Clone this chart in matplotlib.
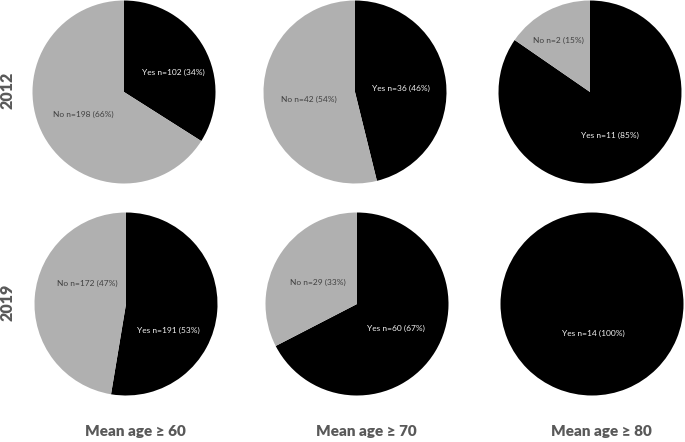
import matplotlib
matplotlib.use("Agg")
import matplotlib.pyplot as plt

# ---- data ----
years = ["2012", "2019"]
age_groups = ["Mean age \u2265 60", "Mean age \u2265 70", "Mean age \u2265 80"]
categories = ["Yes", "No"]
yes_2012 = [102, 36, 11]
no_2012 = [198, 42, 2]
pct_yes_2012 = [34, 46, 85]
pct_no_2012 = [66, 54, 15]
yes_2019 = [191, 60, 14]
no_2019 = [172, 29, 0]
pct_yes_2019 = [53, 67, 100]
pct_no_2019 = [47, 33, 0]

# ---- layout / style ----
W, H = 685, 442
DPI = 100
col_cx = [[124, 355, 590], [126, 357, 592]]
row_cy = [92, 304]
R = 91.5
colors = {"Yes": "#000000", "No": "#B0B0B0"}
text_colors = {"Yes": "#F2F2F2", "No": "#404040"}
# label positions in units of radius (dx, dy), per pie per category
label_offsets = {
    (0, 0): {"Yes": (0.54, 0.21), "No": (-0.44, -0.25)},
    (0, 1): {"Yes": (0.50, 0.04), "No": (-0.50, -0.08)},
    (0, 2): {"Yes": (0.22, -0.47), "No": (-0.34, 0.56)},
    (1, 0): {"Yes": (0.46, -0.29), "No": (-0.42, 0.23)},
    (1, 1): {"Yes": (0.43, -0.27), "No": (-0.43, 0.24)},
    (1, 2): {"Yes": (0.01, -0.32), "No": (0.0, 0.0)},
}
FONT = ["Lato", "DejaVu Sans"]

fig = plt.figure(figsize=(W / DPI, H / DPI), dpi=DPI)
fig.patch.set_facecolor("white")

data = {
    0: (yes_2012, no_2012, pct_yes_2012, pct_no_2012),
    1: (yes_2019, no_2019, pct_yes_2019, pct_no_2019),
}

for r in range(2):
    ys, ns, pys, pns = data[r]
    for c in range(3):
        cx, cy = col_cx[r][c], row_cy[r]
        ax = fig.add_axes([(cx - R) / W, 1 - (cy + R) / H, 2 * R / W, 2 * R / H])
        vals = [ys[c], ns[c]]
        pcts = [pys[c], pns[c]]
        cats = [cat for cat, v in zip(categories, vals) if v > 0]
        v2 = [v for v in vals if v > 0]
        p2 = [p for p, v in zip(pcts, vals) if v > 0]
        ax.pie(v2, colors=[colors[k] for k in cats], startangle=90,
               counterclock=False, radius=1.0,
               wedgeprops=dict(linewidth=0))
        ax.set_xlim(-1, 1)
        ax.set_ylim(-1, 1)
        ax.set_aspect("equal")
        ax.axis("off")
        for cat, v, p in zip(cats, v2, p2):
            dx, dy = label_offsets[(r, c)][cat]
            ax.text(dx, dy, f"{cat} n={v} ({p}%)", ha="center", va="center",
                    fontsize=6, color=text_colors[cat], family=FONT)

# row labels
for r, yr in enumerate(years):
    fig.text(8 / W, 1 - (row_cy[r] - 2) / H, yr, rotation=90, ha="center",
             va="center", fontsize=11.5, fontweight="heavy", color="#595959",
             family=FONT)

# column labels
for c, lab in enumerate(age_groups):
    fig.text((col_cx[1][c] + 9) / W, 1 - 431 / H, lab, ha="center", va="center",
             fontsize=11, fontweight="heavy", color="#595959", family=FONT)

fig.savefig("out.png", dpi=DPI, facecolor="white")
